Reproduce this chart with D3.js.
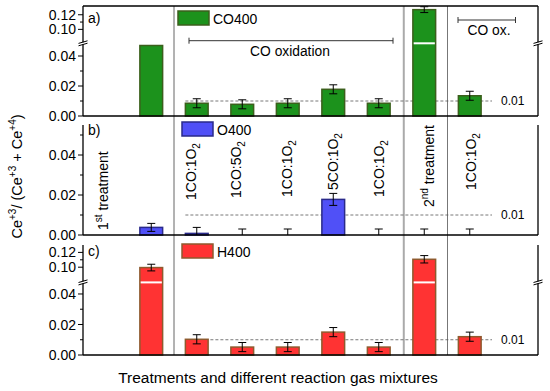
<!DOCTYPE html>
<html><head><meta charset="utf-8">
<script src="https://cdn.jsdelivr.net/npm/d3@7"></script>
<style>
body{margin:0;background:#fff}
svg{display:block}
text{font-family:"Liberation Sans",Arial,Helvetica,sans-serif;fill:#000}
</style>
</head><body>
<svg id="chart" width="550" height="391"></svg>
<script>
// ---------------- data ----------------
const categories = ["1st treatment","1CO:1O2","1CO:5O2","1CO:1O2","5CO:1O2","1CO:1O2","2nd treatment","1CO:1O2"];
const seriesNames = ["CO400","O400","H400"];
const co400    = [0.047, 0.0085, 0.0078, 0.0085, 0.0178, 0.0085, 0.127, 0.0135];
const co400Err = [0,     0.003,  0.003,  0.003,  0.003,  0.003,  0.004, 0.003];
const o400     = [0.0038,0.0008, 0,      0,      0.0178, 0,      0,     0];
const o400Err  = [0.002, 0.003,  0.003,  0.003,  0.003,  0.003,  0.003, 0.003];
const h400     = [0.0995,0.0103, 0.0052, 0.0052, 0.015,  0.0052, 0.1107,0.012];
const h400Err  = [0.0045,0.003,  0.003,  0.003,  0.003,  0.003,  0.005, 0.003];
const refValue = 0.01;
const yTicksBroken = [0, 0.02, 0.04, 0.10, 0.12];
const yMinorBroken = [0.01, 0.03, 0.11];
const yTicksB = [0, 0.02, 0.04];
const yMinorB = [0.01, 0.03, 0.05];
const panelLetters = ["a)","b)","c)"];

// ---------------- layout ----------------
const L = 83, R = 538;
const svg = d3.select("#chart");
const x = d3.scaleBand().domain(d3.range(categories.length))
  .range([L + 45.5, R - 45.5]).paddingInner(0.5).paddingOuter(0.25);
const bw = x.bandwidth(), step = x.step();
const cx = i => x(i) + bw / 2;
const fmt = d3.format(".2f");

const panels = [
  {vals: co400, errs: co400Err, fill: "#1c921c", stroke: "#3b5f1c", top: 6, bottom: 116,
   lower: {domain: [0, 0.048], range: [116, 44]}, upper: {domain: [0.082, 0.132], range: [42.5, 6]},
   breakY: 43.3, ticks: yTicksBroken, minor: yMinorBroken, legend: [178, 11], label: [88, 23], topBorder: true},
  {vals: o400, errs: o400Err, fill: "#5050f7", stroke: "#2a2a8a", top: 125, bottom: 235,
   lower: {domain: [0, 0.055], range: [235, 125]}, upper: null,
   ticks: yTicksB, minor: yMinorB, legend: [182, 122], label: [88, 135]},
  {vals: h400, errs: h400Err, fill: "#ff3333", stroke: "#8e5a2e", top: 245, bottom: 355,
   lower: {domain: [0, 0.047], range: [355, 283.3]}, upper: {domain: [0.08, 0.13], range: [282, 245]},
   breakY: 282.4, ticks: yTicksBroken, minor: yMinorBroken, legend: [182, 244], label: [88, 256]}
];

// vertical separators
const sepLines = [
  {x: cx(1) - step / 2, color: "#666", w: 1},
  {x: cx(6) - step * 0.45, color: "#aaa", w: 2},
  {x: cx(7) - step / 2 + 0.5, color: "#777", w: 1}
];
sepLines.forEach(s => svg.append("line").attr("x1", s.x).attr("x2", s.x).attr("y1", 6).attr("y2", 355)
  .attr("stroke", s.color).attr("stroke-width", s.w));

panels.forEach((p, pi) => {
  const lo = d3.scaleLinear().domain(p.lower.domain).range(p.lower.range);
  const up = p.upper ? d3.scaleLinear().domain(p.upper.domain).range(p.upper.range) : null;
  const y = v => (up && v > p.lower.domain[1]) ? up(Math.max(v, p.upper.domain[0])) : lo(Math.min(v, p.lower.domain[1]));
  const g = svg.append("g");

  // reference dashed line
  g.append("line").attr("x1", x(1)).attr("x2", 492).attr("y1", y(refValue)).attr("y2", y(refValue))
    .attr("stroke", "#555").attr("stroke-width", 0.8).attr("stroke-dasharray", "3,2");
  g.append("text").attr("x", 501).attr("y", y(refValue)).attr("dy", "0.35em")
    .attr("font-size", 12).text(fmt(refValue));

  // bars
  g.selectAll("rect.bar").data(p.vals).join("rect").attr("class", "bar")
    .attr("x", (d, i) => x(i)).attr("width", bw)
    .attr("y", d => y(d)).attr("height", d => y(0) - y(d))
    .attr("fill", p.fill).attr("stroke", d => d > 0 ? p.stroke : "none").attr("stroke-width", 1.5);
  // break gap on tall bars
  if (up) {
    g.selectAll("rect.gap").data(p.vals.map((d, i) => ({d, i})).filter(o => o.d > p.lower.domain[1]))
      .join("rect").attr("class", "gap")
      .attr("x", o => x(o.i) + 0.8).attr("width", bw - 1.6)
      .attr("y", p.breakY - 1).attr("height", 2).attr("fill", "#fff");
  }
  // error bars
  p.vals.forEach((v, i) => {
    const e = p.errs[i];
    if (!e) return;
    const hi = v + e, lowV = Math.max(0, v - e);
    const xc = cx(i);
    g.append("line").attr("x1", xc).attr("x2", xc).attr("y1", y(hi)).attr("y2", y(lowV))
      .attr("stroke", "#000").attr("stroke-width", 1);
    g.append("line").attr("x1", xc - 4).attr("x2", xc + 4).attr("y1", y(hi)).attr("y2", y(hi))
      .attr("stroke", "#000").attr("stroke-width", 1);
    if (v - e >= 0)
      g.append("line").attr("x1", xc - 4).attr("x2", xc + 4).attr("y1", y(lowV)).attr("y2", y(lowV))
        .attr("stroke", "#000").attr("stroke-width", 1);
  });

  // frame
  g.append("line").attr("x1", L).attr("x2", R).attr("y1", p.bottom).attr("y2", p.bottom).attr("stroke", "#000").attr("stroke-width", 1.3);
  [L, R].forEach(xx => g.append("line").attr("x1", xx).attr("x2", xx).attr("y1", p.top).attr("y2", p.bottom)
    .attr("stroke", "#000").attr("stroke-width", 1.3));
  if (p.topBorder) g.append("line").attr("x1", L).attr("x2", R).attr("y1", p.top).attr("y2", p.top).attr("stroke", "#000").attr("stroke-width", 1.3);

  // ticks
  const inRange = v => (v >= p.lower.domain[0] && v <= p.lower.domain[1]) || (up && v >= p.upper.domain[0] && v <= p.upper.domain[1]);
  p.ticks.filter(inRange).forEach(t => {
    g.append("line").attr("x1", L - 5).attr("x2", L).attr("y1", y(t)).attr("y2", y(t)).attr("stroke", "#000");
    g.append("text").attr("x", L - 7).attr("y", y(t)).attr("dy", "0.36em").attr("text-anchor", "end")
      .attr("font-size", 14).text(fmt(t));
  });
  p.minor.filter(inRange).forEach(t => {
    g.append("line").attr("x1", L - 3).attr("x2", L).attr("y1", y(t)).attr("y2", y(t)).attr("stroke", "#000");
  });

  // break marks
  if (up) {
    [L, R].forEach(xx => {
      g.append("rect").attr("x", xx - 2).attr("y", p.breakY - 1).attr("width", 4).attr("height", 2).attr("fill", "#fff");
      [-1.2, 1.2].forEach(o => g.append("line").attr("x1", xx - 4.5).attr("x2", xx + 4.5)
        .attr("y1", p.breakY + o + 1.3).attr("y2", p.breakY + o - 1.3).attr("stroke", "#000").attr("stroke-width", 1));
    });
  }

  // legend
  g.append("rect").attr("x", p.legend[0]).attr("y", p.legend[1]).attr("width", 31).attr("height", 14)
    .attr("fill", p.fill).attr("stroke", p.stroke).attr("stroke-width", 1.5);
  g.append("text").attr("x", p.legend[0] + 35).attr("y", p.legend[1] + 12.5).attr("font-size", 14).text(seriesNames[pi]);
  // panel letter
  g.append("text").attr("x", p.label[0]).attr("y", p.label[1]).attr("font-size", 14).text(panelLetters[pi]);
});

// brackets (panel a)
function bracket(x1, x2, yy) {
  svg.append("line").attr("x1", x1).attr("x2", x2).attr("y1", yy).attr("y2", yy).attr("stroke", "#333").attr("stroke-width", 1);
  [x1, x2].forEach(xx => svg.append("line").attr("x1", xx).attr("x2", xx).attr("y1", yy - 3).attr("y2", yy + 3).attr("stroke", "#333"));
}
bracket(189, 393, 40.7);
svg.append("text").attr("x", 290).attr("y", 55.5).attr("text-anchor", "middle").attr("font-size", 13.8).text("CO oxidation");
bracket(458, 515.5, 20);
svg.append("text").attr("x", 489).attr("y", 35).attr("text-anchor", "middle").attr("font-size", 13.8).text("CO ox.");

// rotated category labels (panel b)
const labelPlace = [
  {x: 108, y: 230}, {dx: -1, y: 200}, {dx: -1, y: 198}, {dx: 4.5, y: 197},
  {dx: 5, y: 190}, {dx: 5, y: 197}, {dx: 10, y: 207}, {dx: 6, y: 190}
];
categories.forEach((c, i) => {
  const pl = labelPlace[i];
  const xx = pl.x !== undefined ? pl.x : cx(i) + pl.dx;
  const t = svg.append("text").attr("transform", `translate(${xx},${pl.y}) rotate(-90)`).attr("font-size", 14);
  let m;
  if ((m = c.match(/^(\d)(st|nd) (.*)$/))) {
    t.append("tspan").text(m[1]);
    t.append("tspan").attr("font-size", 10).attr("dy", -6).text(m[2]);
    t.append("tspan").attr("dy", 6).text(" " + m[3]);
  } else {
    t.append("tspan").text(c.slice(0, -1));
    t.append("tspan").attr("font-size", 10).attr("dy", 4).text(c.slice(-1));
  }
});

// y axis title
const yt = svg.append("text").attr("transform", "translate(22,176.5) rotate(-90)").attr("text-anchor", "middle").attr("font-size", 14.5);
[["Ce",0],["+3",1],["/ (Ce",0],["+3",1],[" + Ce",0],["+4",1],[")",0]].forEach(([s, sup], k, arr) => {
  const prevSup = k > 0 && arr[k - 1][1];
  const ts = yt.append("tspan").text(s);
  if (sup) ts.attr("font-size", 10).attr("dy", -6);
  else if (prevSup) ts.attr("dy", 6);
});

// x axis title
svg.append("text").attr("x", 278).attr("y", 383).attr("text-anchor", "middle").attr("font-size", 15.5)
  .text("Treatments and different reaction gas mixtures");
</script>
</body></html>
